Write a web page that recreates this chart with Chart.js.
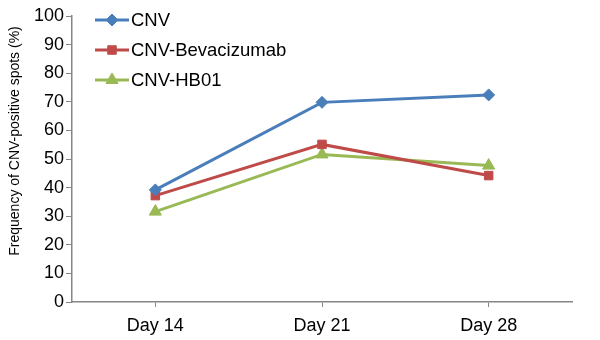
<!DOCTYPE html>
<html>
<head>
<meta charset="utf-8">
<script src="https://cdn.jsdelivr.net/npm/chart.js@4/dist/chart.umd.min.js"></script>
<style>
  html, body { margin: 0; padding: 0; background: #fff; }
  #wrap { width: 600px; height: 340px; position: relative; }
</style>
</head>
<body>
<div id="wrap"><canvas id="chart"></canvas></div>
<script>
const days = ["Day 14", "Day 21", "Day 28"];
const seriesNames = ["CNV", "CNV-Bevacizumab", "CNV-HB01"];
const cnv = [39.2, 69.8, 72.4];
const cnvBevacizumab = [37.2, 55.1, 44.2];
const cnvHB01 = [31.6, 51.6, 47.7];
const yTicks = [0, 10, 20, 30, 40, 50, 60, 70, 80, 90, 100];
const yTitle = "Frequency of CNV-positive spots (%)";

const font = "'Liberation Sans', Arial, sans-serif";
const axisGray = "#868686";

// legend drawn inside the plot, top left
const insideLegend = {
  id: "insideLegend",
  afterDraw(chart) {
    const ctx = chart.ctx;
    ctx.save();
    chart.data.datasets.forEach((ds, i) => {
      const y = 20 + i * 30;
      ctx.strokeStyle = ds.borderColor;
      ctx.lineWidth = 3;
      ctx.beginPath();
      ctx.moveTo(95, y);
      ctx.lineTo(129, y);
      ctx.stroke();
      ctx.fillStyle = ds.backgroundColor;
      ctx.strokeStyle = ds.borderColor;
      ctx.lineWidth = 1;
      Chart.helpers.drawPoint(ctx, {
        pointStyle: ds.pointStyle,
        radius: ds.pointRadius,
        borderWidth: 1
      }, 112, y);
      ctx.fillStyle = "#000";
      ctx.font = "18.5px " + font;
      ctx.textBaseline = "middle";
      ctx.fillText(ds.label, 131, y + 1);
    });
    ctx.restore();
  }
};

// rotated y axis title, a bit above the axis centre like the original
const yAxisTitle = {
  id: "yAxisTitle",
  afterDraw(chart) {
    const ctx = chart.ctx;
    ctx.save();
    ctx.translate(15, 141);
    ctx.rotate(-Math.PI / 2);
    ctx.fillStyle = "#000";
    ctx.font = "14px " + font;
    ctx.textAlign = "center";
    ctx.textBaseline = "middle";
    ctx.fillText(yTitle, 0, 0);
    ctx.restore();
  }
};

const mk = (label, data, color, style, r) => ({
  label: label,
  data: data,
  borderColor: color,
  backgroundColor: color,
  borderWidth: 3,
  pointStyle: style,
  pointRadius: r,
  pointHoverRadius: r,
  pointBorderWidth: 1,
  tension: 0
});

new Chart(document.getElementById("chart"), {
  type: "line",
  data: {
    labels: days,
    datasets: [
      mk(seriesNames[0], cnv, "#4a7ebb", "rectRot", 6),
      mk(seriesNames[1], cnvBevacizumab, "#be4b48", "rect", 6),
      mk(seriesNames[2], cnvHB01, "#98b954", "triangle", 7)
    ]
  },
  options: {
    responsive: true,
    maintainAspectRatio: false,
    animation: false,
    layout: { padding: { left: 0, right: 28, top: 16, bottom: 0 } },
    plugins: {
      legend: { display: false },
      tooltip: { enabled: false }
    },
    scales: {
      x: {
        offset: true,
        grid: {
          offset: false,
          drawOnChartArea: false,
          drawTicks: true,
          tickLength: 5,
          color: axisGray
        },
        border: { color: axisGray, width: 1.5 },
        ticks: {
          color: "#000",
          font: { family: font, size: 18 },
          padding: 8,
          maxRotation: 0
        },
        afterFit(scale) { scale.height = 38; }
      },
      y: {
        min: 0,
        max: 100,
        afterBuildTicks(scale) { scale.ticks = yTicks.map(v => ({ value: v })); },
        grid: {
          drawOnChartArea: false,
          drawTicks: true,
          tickLength: 6,
          color: axisGray
        },
        border: { color: axisGray, width: 1.5 },
        ticks: {
          color: "#000",
          font: { family: font, size: 18 },
          padding: 2
        },
        afterFit(scale) { scale.width = 72; }
      }
    }
  },
  plugins: [insideLegend, yAxisTitle]
});
</script>
</body>
</html>
